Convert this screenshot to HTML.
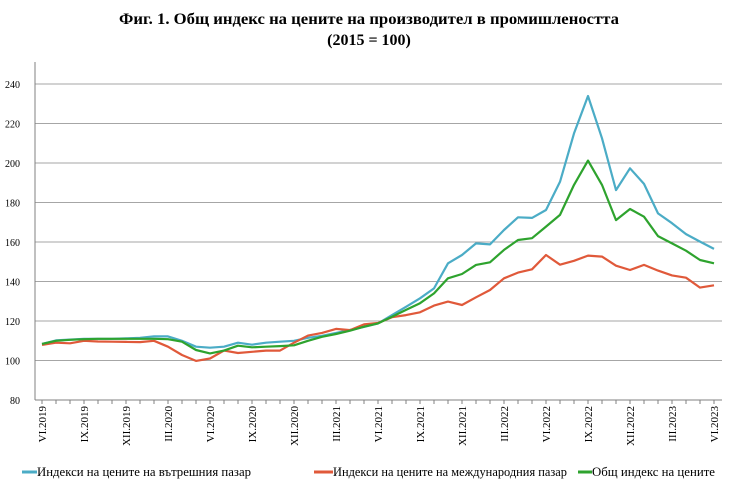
<!DOCTYPE html>
<html><head><meta charset="utf-8"><style>
html,body{margin:0;padding:0;background:#fff;}
svg{display:block;font-family:"Liberation Serif",serif;}
</style></head><body>
<svg id="chart" width="740" height="494" viewBox="0 0 740 494">
<text x="369" y="24" text-anchor="middle" font-size="16" font-weight="bold" textLength="500" lengthAdjust="spacingAndGlyphs">Фиг. 1. Общ индекс на цените на производител в промишлеността</text>
<text x="369" y="45" text-anchor="middle" font-size="16" font-weight="bold">(2015 = 100)</text>
<g id="grid"></g><g id="axes"></g><g id="series"></g>
<g id="legend" font-size="12.5">
 <line x1="22" y1="472" x2="37" y2="472" stroke="#4bacc6" stroke-width="3"/>
 <text x="37" y="476" textLength="214" lengthAdjust="spacingAndGlyphs">Индекси на цените на вътрешния пазар</text>
 <line x1="314" y1="472" x2="333" y2="472" stroke="#e0593a" stroke-width="3"/>
 <text x="333" y="476" textLength="234" lengthAdjust="spacingAndGlyphs">Индекси на цените на международния пазар</text>
 <line x1="578" y1="472" x2="592" y2="472" stroke="#2ea32e" stroke-width="3"/>
 <text x="592" y="476" textLength="123" lengthAdjust="spacingAndGlyphs">Общ индекс на цените</text>
</g>
</svg>
<script>
const monthLabels = ["VI.2019","IX.2019","XII.2019","III.2020","VI.2020","IX.2020","XII.2020","III.2021","VI.2021","IX.2021","XII.2021","III.2022","VI.2022","IX.2022","XII.2022","III.2023","VI.2023"];
const yTicks = [80,100,120,140,160,180,200,220,240];
const domestic = [108.4,110.2,110.6,111,111,111,111.2,111.5,112.2,112.2,110,107,106.5,107,109,108,109,109.5,110,111.5,112.5,114,115.5,117,118.8,123,127.2,131.5,136.5,149.2,153.4,159.3,158.8,166.1,172.5,172.2,176.2,190.5,215,233.9,212.5,186.3,197.3,189.4,174.5,169.5,164,160.2,156.5];
const international = [107.9,109,108.7,110,109.6,109.5,109.4,109.3,110,107,102.8,99.8,101,105,103.8,104.4,105,105,109,112.6,114,116,115.4,118.3,119,121.9,123,124.4,127.8,129.8,128.1,132,135.7,141.6,144.5,146.2,153.4,148.5,150.5,153.1,152.6,148,145.8,148.4,145.5,143.1,141.9,136.9,138.1];
const total = [108.4,110,110.5,110.8,111,111,111,111,111,110.8,109.5,105.3,103.6,105,107.5,106.7,107,107.3,107.7,110,112,113.4,115.1,117.1,118.8,122.2,125.6,129,134,141.6,143.8,148.4,149.7,156,161,161.9,167.8,173.7,188.9,201.2,188.9,171.1,176.7,172.8,163,159.3,155.6,150.9,149.2];
</script>
<script>
const NS="http://www.w3.org/2000/svg";
const X0=42, DX=14, Y80=400, PPU=1.975;
function xPos(i){return X0+i*DX;}
function yPos(v){return Y80-(v-80)*PPU;}
function mk(tag,attrs,parent){const e=document.createElementNS(NS,tag);for(const k in attrs)e.setAttribute(k,attrs[k]);parent.appendChild(e);return e;}
const grid=document.getElementById('grid'), axes=document.getElementById('axes'), series=document.getElementById('series');
yTicks.forEach(v=>{
  if(v>80){const g=mk('line',{x1:35,x2:722,y1:yPos(v),y2:yPos(v),stroke:'#a6a6a6','stroke-width':1},grid);
  
  }
  const t=mk('text',{x:20,y:yPos(v)+4,'text-anchor':'end','font-size':10},axes);
  t.textContent=v;
  
  
});
const ya=mk('line',{x1:35,x2:35,y1:62,y2:400,stroke:'#808080'},axes);


const xa=mk('line',{x1:35,x2:722,y1:400,y2:400,stroke:'#808080'},axes);


for(let i=0;i<49;i++){
  const tk=mk('line',{x1:xPos(i),x2:xPos(i),y1:400,y2:404,stroke:'#808080'},axes);
  
  
}
monthLabels.forEach((l,k)=>{
  const x=xPos(k*3)+4;
  const t=mk('text',{x:x,y:406,'font-size':11,'text-anchor':'end',transform:`rotate(-90 ${x} 406)`},axes);
  t.textContent=l;
  
  
});
function draw(arr,color,name){
  const d=arr.map((v,i)=>(i?'L':'M')+xPos(i).toFixed(1)+' '+yPos(v).toFixed(1)).join(' ');
  const p=mk('path',{d:d,fill:'none',stroke:color,'stroke-width':2.2,'stroke-linejoin':'round'},series);
  
  
}
draw(domestic,'#4bacc6','line-domestic');
draw(international,'#e0593a','line-international');
draw(total,'#2ea32e','line-total');
</script>
</body></html>
